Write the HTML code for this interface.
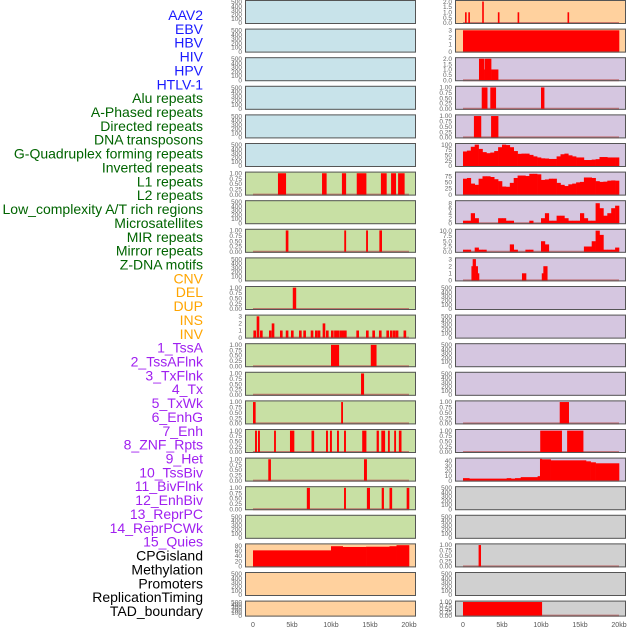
<!DOCTYPE html>
<html><head><meta charset="utf-8">
<style>
html,body{margin:0;padding:0;background:#fff;}
svg{display:block;font-family:"Liberation Sans",sans-serif;}
</style></head>
<body>
<svg id="chart" width="630" height="630" viewBox="0 0 630 630" xmlns="http://www.w3.org/2000/svg"></svg>
<script>
// ---- data ----
const trackLabels = ["AAV2","EBV","HBV","HIV","HPV","HTLV-1","Alu repeats","A-Phased repeats","Directed repeats","DNA transposons","G-Quadruplex forming repeats","Inverted repeats","L1 repeats","L2 repeats","Low_complexity A/T rich regions","Microsatellites","MIR repeats","Mirror repeats","Z-DNA motifs","CNV","DEL","DUP","INS","INV","1_TssA","2_TssAFlnk","3_TxFlnk","4_Tx","5_TxWk","6_EnhG","7_Enh","8_ZNF_Rpts","9_Het","10_TssBiv","11_BivFlnk","12_EnhBiv","13_ReprPC","14_ReprPCWk","15_Quies","CPGisland","Methylation","Promoters","ReplicationTiming","TAD_boundary"];
const labelGroups = [0,0,0,0,0,0,1,1,1,1,1,1,1,1,1,1,1,1,1,2,2,2,2,2,3,3,3,3,3,3,3,3,3,3,3,3,3,3,3,4,4,4,4,4];
const groupColors = ["#1a1aff","#006400","#ffa500","#a020f0","#000000"];
const xTickLabels = ["0","5kb","10kb","15kb","20kb"];
const xTickValues = [0,5,10,15,20];
const ticksEmpty = [0,100,200,300,400,500];
const ticksUnit = [0,0.25,0.5,0.75,1];
const segL7 = [[3.2,4.2,1],[8.85,9.4,1],[11.4,11.9,1],[13.3,14.5,1],[16.4,17.1,1],[17.7,18.3,1],[18.6,19.4,1]];
const segL9 = [[4.2,4.5,1],[11.7,11.9,1],[14.5,14.7,1],[16.2,16.5,1]];
const segL11 = [[5.1,5.5,1]];
const insPos = [0.05,0.47,0.9,2.05,2.4,3.46,4.2,4.87,5.9,6.45,7.4,7.95,8.3,8.93,9.36,10.0,10.4,10.7,11.07,11.4,11.67,13.25,14.49,15.3,16.15,17.1,17.56,17.95,18.3,19.3];
const insVal = [1,3,1,1,2,1,1,1,1,1,1,1,1,2,1,1,1,1,1,1,1,1,1,1,1,1,1,1,1,1];
const segL13 = [[10.0,11.0,1],[15.1,15.8,1]];
const segL14 = [[13.85,14.2,1]];
const segL15 = [[0.0,0.3,1],[11.3,11.5,1]];
const segL16 = [[0.26,0.47,1],[0.64,0.85,1],[2.7,2.9,1],[4.74,5.26,1],[7.5,7.8,1],[9.36,9.57,1],[9.87,10.08,1],[10.77,10.98,1],[11.67,11.88,1],[14.0,14.5,1],[15.85,16.1,1],[16.45,16.9,1],[17.3,17.5,1],[18.1,18.3,1],[18.7,19.0,1]];
const segL17 = [[1.96,2.26,1],[14.23,14.57,1]];
const segL18 = [[6.9,7.26,1],[11.67,11.88,1],[14.6,14.96,1],[16.5,16.75,1],[17.5,17.8,1],[19.7,20,1]];
const segCpG = [[0,10,62],[10,11.5,78],[11.5,14.5,75],[14.5,17.5,76],[17.5,18.4,78],[18.4,20,82]];
const dupPos = [0.26,0.68,2.46,4.47,7.0,13.4];
const dupVal = [1,1,2,1,1,1];
const segR2 = [[0,20,3]];
const segR3 = [[2.05,2.7,2],[2.7,2.8,1],[2.8,3.6,2],[3.6,4.5,1]];
const segR4 = [[2.4,3.1,1],[3.5,4.2,1],[10.0,10.4,1]];
const segR5 = [[1.4,2.3,1],[3.6,4.5,1]];
const profR6 = [68,72,90,100,80,65,60,63,70,88,100,98,88,70,57,58,58,52,45,40,36,35,33,33,45,55,58,50,45,40,40,28,28,30,32,42,42,40,40,40];
const profR7 = [65,68,45,40,65,75,75,72,63,55,33,32,48,68,78,78,76,85,85,83,60,62,65,65,48,40,35,42,45,50,52,70,70,68,55,52,53,57,58,57];
const profR8 = [1,1,4,2,0,0,0,0,0,2,2,1,1,0,0,0,0,1,0,0,2,4,1,1,3,3,2,1,1,1,4,2,1,1,8,6,3,4,6,7];
const profR9 = [1,1,0,2,1,1,0,0,0,0,0,0,3.5,1,0,0,1,1,0,0,5,3.5,0,0,0,0,0,0,0,0,0,2.5,2.5,5,10,8,1,1,1,2];
const segR10 = [[1.08,1.24,2],[1.24,1.62,3],[1.62,1.88,2],[1.88,2.05,1],[7.56,8.08,1],[10.1,10.3,1],[10.3,10.8,2]];
const segR15 = [[12.4,13.55,1]];
const segR16 = [[9.9,12.65,1],[13.35,15.4,1]];
const segR17 = [[0,0.8,5],[0.8,5.6,4],[5.6,6.15,5],[6.15,6.67,4],[6.67,7.4,5],[7.4,9.57,7],[9.57,9.87,9],[9.87,10.1,44],[10.1,11.24,43],[11.24,15.77,41],[15.77,16.36,39],[16.36,17,37],[17,20,35]];
const segR20 = [[2.0,2.27,1]];
const segR22 = [[0,10.1,1]];

// ---- layout helpers ----
const NS="http://www.w3.org/2000/svg";
const svg=document.getElementById('chart');
function mk(tag,attrs,parent){const e=document.createElementNS(NS,tag);for(const k in attrs)e.setAttribute(k,attrs[k]);(parent||svg).appendChild(e);return e;}
const BG={blue:"#c8e3ea",green:"#c8e0a4",orange:"#ffd19e",purple:"#d5c6e0",gray:"#d0d0d0"};
const colX=[245,455];
const panelW=171;
const kbScale=7.8;
function xScale(col,kb){return colX[col]+8+kb*kbScale;}
function rowTop(r){return r*28.6;}
function rowH(r){return r===21?16:24;}
function profToSeg(p){return p.map((v,i)=>[i*0.5,(i+1)*0.5,v]);}
function ptsToSeg(pos,val,w){return pos.map((p,i)=>[p,p+w,val[i]]);}

const panels=[];
for(let r=0;r<6;r++)panels.push([0,r,"blue",520,ticksEmpty,0,null]);
panels.push([0,6,"green",1.03,ticksUnit,2,segL7]);
panels.push([0,7,"green",520,ticksEmpty,0,null]);
panels.push([0,8,"green",1.03,ticksUnit,2,segL9]);
panels.push([0,9,"green",520,ticksEmpty,0,null]);
panels.push([0,10,"green",1.03,ticksUnit,2,segL11]);
panels.push([0,11,"green",3.1,[0,1,2,3],0,ptsToSeg(insPos,insVal,0.3)]);
panels.push([0,12,"green",1.03,ticksUnit,2,segL13]);
panels.push([0,13,"green",1.03,ticksUnit,2,segL14]);
panels.push([0,14,"green",1.03,ticksUnit,2,segL15]);
panels.push([0,15,"green",1.03,ticksUnit,2,segL16]);
panels.push([0,16,"green",1.03,ticksUnit,2,segL17]);
panels.push([0,17,"green",1.03,ticksUnit,2,segL18]);
panels.push([0,18,"green",520,ticksEmpty,0,null]);
panels.push([0,19,"orange",85,[0,20,40,60,80],0,segCpG]);
panels.push([0,20,"orange",520,ticksEmpty,0,null]);
panels.push([0,21,"orange",520,ticksEmpty,0,null]);
panels.push([1,0,"orange",2.05,[0,0.5,1,1.5,2],1,ptsToSeg(dupPos,dupVal,0.17)]);
panels.push([1,1,"orange",3.1,[0,1,2,3],0,segR2]);
panels.push([1,2,"purple",2.05,[0,0.5,1,1.5,2],1,segR3]);
panels.push([1,3,"purple",1.03,ticksUnit,2,segR4]);
panels.push([1,4,"purple",1.03,ticksUnit,2,segR5]);
panels.push([1,5,"purple",103,[0,25,50,75,100],0,profToSeg(profR6)]);
panels.push([1,6,"purple",90,[0,25,50,75],0,profToSeg(profR7)]);
panels.push([1,7,"purple",8.8,[0,2,4,6,8],0,profToSeg(profR8)]);
panels.push([1,8,"purple",10.4,[0,2.5,5,7.5,10],1,profToSeg(profR9)]);
panels.push([1,9,"purple",3.1,[0,1,2,3],0,segR10]);
for(let r=10;r<14;r++)panels.push([1,r,"purple",520,ticksEmpty,0,null]);
panels.push([1,14,"purple",1.03,ticksUnit,2,segR15]);
panels.push([1,15,"purple",1.03,ticksUnit,2,segR16]);
panels.push([1,16,"purple",44.5,[0,10,20,30,40],0,segR17]);
panels.push([1,17,"gray",520,ticksEmpty,0,null]);
panels.push([1,18,"gray",520,ticksEmpty,0,null]);
panels.push([1,19,"gray",1.03,ticksUnit,2,segR20]);
panels.push([1,20,"gray",520,ticksEmpty,0,null]);
panels.push([1,21,"gray",1.03,ticksUnit,2,segR22]);

panels.forEach((p,idx)=>{
  const [col,row,bg,ymax,ticks,fmt,segs]=p;
  const t=rowTop(row),h=rowH(row),x0=colX[col];
  const yS=v=>t+h-1-(v/ymax)*(h-2);
  const g=mk('g',{});
  
  
  const bgR=mk('rect',{x:x0,y:t,width:panelW,height:h,fill:BG[bg]},g);
  
  
  if(segs){
    const base=mk('line',{x1:xScale(col,0),x2:xScale(col,20),y1:yS(0),y2:yS(0),stroke:"#b85050","stroke-width":2,"stroke-opacity":0.7},g);
    
    
    segs.forEach(s=>{
      if(s[2]<=0)return;
      const xa=xScale(col,s[0]),xb=xScale(col,s[1]);
      const bar=mk('rect',{x:xa,y:yS(s[2]),width:Math.max(1.2,xb-xa)+0.3,height:yS(0)-yS(s[2]),fill:"#ff0000"},g);
      
      
    });
  }
  const fr=mk('rect',{x:x0+0.5,y:t+0.5,width:panelW-1,height:h-1,fill:"none",stroke:"#555","stroke-width":1},g);
  
  
  ticks.forEach(v=>{
    const tx=mk('text',{x:x0-3,y:yS(v)+2.2,"font-size":6.5,fill:"#666","text-anchor":"end"},g);
    tx.textContent=v.toFixed(fmt);
    
    
  });
});

[0,1].forEach(col=>{
  xTickValues.forEach((v,i)=>{
    const tx=mk('text',{x:xScale(col,v),y:627,"font-size":7,fill:"#555","text-anchor":"middle"});
    tx.textContent=xTickLabels[i];
    
    
  });
});

trackLabels.forEach((lab,i)=>{
  const tx=mk('text',{x:203,y:20+i*13.86,"font-size":14,fill:groupColors[labelGroups[i]],"text-anchor":"end"});
  tx.textContent=lab;
  
  
});
</script>
</body></html>
